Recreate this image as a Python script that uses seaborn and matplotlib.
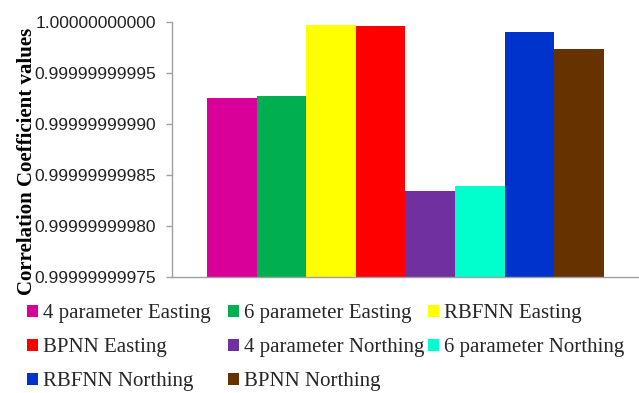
import matplotlib
matplotlib.use("Agg")
import matplotlib.pyplot as plt
import seaborn as sns
import pandas as pd
from matplotlib.ticker import FixedLocator, FormatStrFormatter

# Correlation coefficients for each transformation / network model
models = ["4 parameter Easting", "6 parameter Easting", "RBFNN Easting",
          "BPNN Easting", "4 parameter Northing", "6 parameter Northing",
          "RBFNN Northing", "BPNN Northing"]
values = [0.999999999926, 0.999999999927, 0.9999999999968, 0.999999999996,
          0.9999999998346, 0.9999999998392, 0.9999999999905, 0.9999999999738]
colors = ["#D80098", "#00B050", "#FFFF00", "#FF0000",
          "#7030A0", "#00FFCC", "#0033CC", "#663300"]
yticks = [0.99999999975, 0.99999999980, 0.99999999985,
          0.99999999990, 0.99999999995, 1.00000000000]

df = pd.DataFrame({"group": [""] * len(models), "model": models, "value": values})

sns.set_style("white")
fig = plt.figure(figsize=(6.39, 3.93), dpi=100)
ax = fig.add_axes([0.269, 0.295, 0.731, 0.649])

sns.barplot(data=df, x="group", y="value", hue="model", hue_order=models,
            palette=colors, width=0.85, gap=0, linewidth=0, saturation=1,
            errorbar=None, ax=ax)

ax.set_ylim(yticks[0], yticks[-1])
ax.set_xlim(-0.5, 0.5)
ax.yaxis.set_major_locator(FixedLocator(yticks))
ax.yaxis.set_major_formatter(FormatStrFormatter("%.11f"))
ax.set_xticks([])
ax.set_xlabel("")

for side in ("top", "right"):
    ax.spines[side].set_visible(False)
for side in ("left", "bottom"):
    ax.spines[side].set_color("#A0A0A0")
    ax.spines[side].set_linewidth(1.0)

ax.tick_params(axis="y", which="major", left=True, length=4.5, width=1,
               color="#A0A0A0", pad=7, labelsize=12.5, labelcolor="#222222")
for lbl in ax.get_yticklabels():
    lbl.set_fontfamily("Liberation Sans")

ax.set_ylabel("Correlation Coefficient values", fontsize=15, fontweight="bold",
              family="Liberation Serif", color="black")
ax.yaxis.set_label_coords(-0.289, 0.455)

# Legend: three equally spaced columns, filled row by row
handles, labels = ax.get_legend_handles_labels()
if ax.get_legend() is not None:
    ax.get_legend().remove()
col_x = [27 / 639, 228 / 639, 428 / 639]
for c, x0 in enumerate(col_x):
    idx = list(range(c, len(models), 3))
    fig.legend([handles[i] for i in idx], [labels[i] for i in idx],
               loc="upper left", bbox_to_anchor=(x0, 0.226), ncol=1,
               frameon=False, prop={"family": "Liberation Serif", "size": 15},
               handlelength=0.55, handleheight=0.55, handletextpad=0.2,
               labelspacing=0.72, borderpad=0, borderaxespad=0)

fig.savefig("out.png", dpi=100)
